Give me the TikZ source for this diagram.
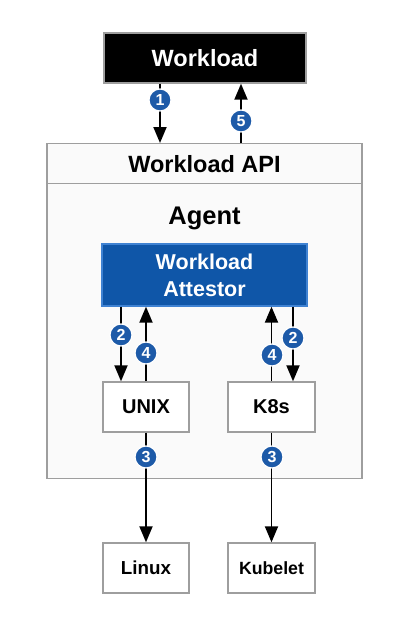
\documentclass[tikz,border=0pt]{standalone}
\usepackage{fontspec}
\setmainfont{Liberation Sans}
\usetikzlibrary{arrows.meta}
\definecolor{boxgray}{HTML}{9E9E9E}
\definecolor{panel}{HTML}{FAFAFA}
\definecolor{attblue}{HTML}{0F56A8}
\definecolor{attborder}{HTML}{3F82D2}
\definecolor{badgeblue}{HTML}{1D5AA8}
\tikzset{
  plainbox/.style={draw=boxgray, line width=1.4pt, fill=white, inner sep=0pt, font=\bfseries},
  arr/.style={line width=1.9pt, -{Triangle[length=16pt,width=13pt]}},
  badge/.style={circle, fill=badgeblue, draw=white, line width=1.2pt, minimum size=22pt, inner sep=0pt, text=white, font=\bfseries\fontsize{16}{16}\selectfont},
}
\begin{document}
\begin{tikzpicture}[x=1pt,y=-1pt]
\useasboundingbox (0,0) rectangle (410,622);
% outer agent panel
\node[plainbox, fill=panel, minimum width=315pt, minimum height=335pt, anchor=north] (agent) at (204.5,143) {};
\node[plainbox, fill=panel, minimum width=315pt, minimum height=40pt, anchor=north, font=\bfseries\fontsize{23.5}{23.5}\selectfont] (api) at (204.5,143) {Workload API};
\node[font=\bfseries\fontsize{25.5}{25.5}\selectfont] (agentlbl) at (204.5,218) {Agent};
% workload
\node[plainbox, fill=black, text=white, minimum width=202pt, minimum height=50pt, font=\bfseries\fontsize{23.5}{23.5}\selectfont] (wl) at (205,58) {Workload};
% attestor
\node[draw=attborder, line width=1.3pt, fill=attblue, text=white, minimum width=205pt, minimum height=62pt, inner sep=0pt, align=center, font=\bfseries\fontsize{21.5}{27}\selectfont] (att) at (204.5,275) {Workload\\Attestor};
% plugins
\node[plainbox, minimum width=86pt, minimum height=50pt, font=\bfseries\fontsize{20}{20}\selectfont] (unix) at (146,407) {UNIX};
\node[plainbox, minimum width=87pt, minimum height=50pt, font=\bfseries\fontsize{20}{20}\selectfont] (k8s) at (271.5,407) {K8s};
\node[plainbox, minimum width=86pt, minimum height=50pt, font=\bfseries\fontsize{18.8}{18.8}\selectfont] (linux) at (146,568) {Linux};
\node[plainbox, minimum width=87pt, minimum height=50pt, font=\bfseries\fontsize{17.7}{17.7}\selectfont] (kubelet) at (271.5,568) {Kubelet};
% arrows
\draw[arr] ([xshift=-45pt]wl.south) -- ([xshift=-45pt]wl.south |- api.north);
\draw[arr] ([xshift=36pt]wl.south |- api.north) -- ([xshift=36pt]wl.south);
\draw[arr] ([xshift=-25pt]unix.north |- att.south) -- ([xshift=-25pt]unix.north);
\draw[arr] (unix.north) -- (unix.north |- att.south);
\draw[arr] (k8s.north) -- (k8s.north |- att.south);
\draw[arr] ([xshift=21.5pt]k8s.north |- att.south) -- ([xshift=21.5pt]k8s.north);
\draw[arr] (unix.south) -- (linux.north);
\draw[arr] (k8s.south) -- (kubelet.north);
% badges
\node[badge] (b1) at (160,100) {1};
\node[badge] (b5) at (241,121) {5};
\node[badge] (b2l) at (121,335) {2};
\node[badge] (b4l) at (146,353) {4};
\node[badge] (b4r) at (272,355) {4};
\node[badge] (b2r) at (293,338) {2};
\node[badge] (b3l) at (146,457) {3};
\node[badge] (b3r) at (272,457) {3};
\end{tikzpicture}
\end{document}
